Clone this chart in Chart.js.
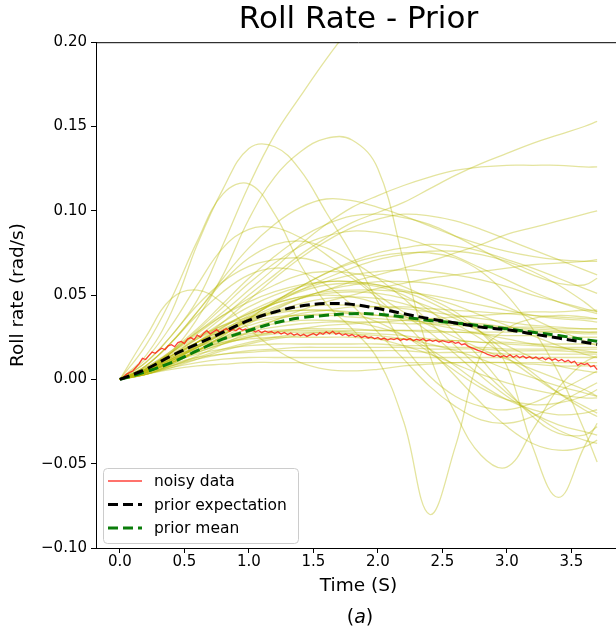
<!DOCTYPE html>
<html>
<head>
<meta charset="utf-8">
<script src="https://cdn.jsdelivr.net/npm/chart.js@4.4.1/dist/chart.umd.min.js"></script>
<style>
    html, body { margin: 0; padding: 0; background: #fff; overflow: hidden; }
    #wrap { position: relative; width: 616px; height: 636px; overflow: hidden; }
    #grafica { position: absolute; left: 0; top: 0; }
    #caption { position: absolute; top: 605px; left: 310px; width: 100px; text-align: center; font: 19px "DejaVu Sans"; color: #000; }
</style>
</head>
<body>
<div id="wrap">
    <canvas id="grafica" width="640" height="636"></canvas>
    <div id="caption">(<i>a</i>)</div>
</div>
<script>
// Textos i eixos
const TITOL = "Roll Rate - Prior";
const X_LABEL = "Time (S)";
const Y_LABEL = "Roll rate (rad/s)";
const X_TICKS = [0, 0.5, 1, 1.5, 2, 2.5, 3, 3.5];
const X_TICK_LABELS = ["0.0", "0.5", "1.0", "1.5", "2.0", "2.5", "3.0", "3.5"];
const Y_TICKS = [-0.1, -0.05, 0, 0.05, 0.1, 0.15, 0.2];
const Y_TICK_LABELS = ["\u22120.10", "\u22120.05", "0.00", "0.05", "0.10", "0.15", "0.20"];
const LEGEND_LABELS = ["noisy data", "prior expectation", "prior mean"];

// Dades sorolloses (mostrejades cada 0.025 s)
const NOISY_STEP = 0.025;
const NOISY_DATA = [
    0, 0.0012, 0.0030, 0.0041, 0.0050, 0.0072, 0.0094, 0.0125,
    0.0118, 0.0141, 0.0162, 0.0155, 0.0171, 0.0185, 0.0176, 0.0199,
    0.0206, 0.0194, 0.0218, 0.0225, 0.0212, 0.0239, 0.0248, 0.0236,
    0.0262, 0.0251, 0.0274, 0.0289, 0.0270, 0.0283, 0.0295, 0.0279,
    0.0291, 0.0302, 0.0285, 0.0296, 0.0288, 0.0304, 0.0292, 0.0299,
    0.0286, 0.0294, 0.0281, 0.0290, 0.0277, 0.0287, 0.0279, 0.0284,
    0.0272, 0.0283, 0.0269, 0.0278, 0.0266, 0.0275, 0.0262, 0.0271,
    0.0259, 0.0268, 0.0255, 0.0264, 0.0273, 0.0261, 0.0277, 0.0268,
    0.0282, 0.0271, 0.0285, 0.0268, 0.0276, 0.0262, 0.0270, 0.0258,
    0.0266, 0.0253, 0.0261, 0.0249, 0.0257, 0.0246, 0.0252, 0.0241,
    0.0249, 0.0237, 0.0245, 0.0233, 0.0242, 0.0236, 0.0244, 0.0231,
    0.0240, 0.0234, 0.0243, 0.0229, 0.0238, 0.0232, 0.0241, 0.0228,
    0.0235, 0.0226, 0.0233, 0.0222, 0.0230, 0.0224, 0.0219, 0.0226,
    0.0214, 0.0220, 0.0206, 0.0211, 0.0196, 0.0189, 0.0181, 0.0172,
    0.0166, 0.0158, 0.0149, 0.0143, 0.0136, 0.0145, 0.0132, 0.0141,
    0.0134, 0.0146, 0.0131, 0.0142, 0.0128, 0.0139, 0.0126, 0.0135,
    0.0124, 0.0133, 0.0121, 0.0130, 0.0117, 0.0127, 0.0114, 0.0122,
    0.0109, 0.0118, 0.0104, 0.0113, 0.0099, 0.0108, 0.0083, 0.0096,
    0.0088, 0.0094, 0.0075, 0.0082, 0.0058
];

// Corbes del prior
const SAMPLE_TIME = [0, 0.2, 0.4, 0.6, 0.8, 1.0, 1.2, 1.4, 1.6, 1.8, 2.0, 2.2, 2.4, 2.6, 2.8, 3.0, 3.2, 3.4, 3.6, 3.7];
const PRIOR_EXPECTATION = [0, 0.006, 0.014, 0.021, 0.028, 0.035, 0.040, 0.0435, 0.045, 0.0445, 0.042, 0.039, 0.036, 0.0335, 0.031, 0.0295, 0.027, 0.0245, 0.022, 0.0208];
const PRIOR_MEAN = [0, 0.0045, 0.010, 0.017, 0.024, 0.029, 0.0335, 0.0365, 0.038, 0.039, 0.0387, 0.037, 0.035, 0.0335, 0.0318, 0.030, 0.028, 0.026, 0.0237, 0.0226];
const PRIOR_SAMPLES = [
    [0, 0.010, 0.026, 0.047, 0.080, 0.115, 0.145, 0.168, 0.190, 0.210, 0.228, 0.245, 0.260, 0.272, 0.282, 0.290, 0.296, 0.300, 0.303, 0.305],
    [0, 0.014, 0.040, 0.080, 0.113, 0.137, 0.138, 0.124, 0.099, 0.074, 0.046, 0.020, 0.002, -0.010, -0.016, -0.018, -0.014, -0.007, 0.001, 0.005],
    [0, 0.020, 0.048, 0.082, 0.110, 0.116, 0.098, 0.068, 0.045, 0.030, 0.012, -0.025, -0.080, -0.040, 0.015, 0.030, 0.036, 0.038, 0.037, 0.036],
    [0, 0.004, 0.016, 0.036, 0.062, 0.095, 0.120, 0.135, 0.143, 0.142, 0.125, 0.070, 0.015, -0.020, -0.045, -0.052, -0.030, -0.005, 0.010, 0.014],
    [0, 0.006, 0.016, 0.027, 0.038, 0.048, 0.056, 0.062, 0.064, 0.063, 0.060, 0.055, 0.048, 0.040, 0.028, 0.008, -0.040, -0.070, -0.040, -0.026],
    [0, 0.005, 0.014, 0.025, 0.037, 0.050, 0.062, 0.074, 0.084, 0.093, 0.099, 0.105, 0.113, 0.121, 0.128, 0.134, 0.140, 0.145, 0.150, 0.153],
    [0, 0.006, 0.016, 0.028, 0.040, 0.053, 0.066, 0.080, 0.092, 0.102, 0.109, 0.115, 0.120, 0.124, 0.126, 0.127, 0.127, 0.127, 0.126, 0.126],
    [0, 0.004, 0.010, 0.017, 0.025, 0.033, 0.041, 0.048, 0.053, 0.058, 0.062, 0.066, 0.070, 0.075, 0.080, 0.086, 0.090, 0.094, 0.098, 0.100],
    [0, 0.025, 0.048, 0.053, 0.045, 0.030, 0.018, 0.010, 0.006, 0.005, 0.006, 0.008, 0.009, 0.010, 0.010, 0.010, 0.009, 0.008, 0.008, 0.008],
    [0, 0.008, 0.022, 0.040, 0.060, 0.078, 0.092, 0.102, 0.107, 0.106, 0.102, 0.097, 0.091, 0.085, 0.080, 0.076, 0.073, 0.071, 0.070, 0.070],
    [0, 0.006, 0.017, 0.030, 0.045, 0.060, 0.073, 0.084, 0.092, 0.097, 0.098, 0.096, 0.092, 0.085, 0.077, 0.069, 0.062, 0.057, 0.056, 0.060],
    [0, 0.012, 0.032, 0.056, 0.078, 0.089, 0.090, 0.084, 0.074, 0.062, 0.050, 0.040, 0.032, 0.025, 0.018, 0.012, 0.006, 0.000, -0.006, -0.010],
    [0, 0.008, 0.022, 0.040, 0.058, 0.072, 0.080, 0.082, 0.078, 0.070, 0.060, 0.048, 0.034, 0.020, 0.006, -0.008, -0.020, -0.030, -0.036, -0.038],
    [0, 0.004, 0.012, 0.022, 0.034, 0.047, 0.060, 0.072, 0.082, 0.090, 0.095, 0.098, 0.097, 0.094, 0.089, 0.083, 0.077, 0.071, 0.065, 0.062],
    [0, 0.006, 0.016, 0.029, 0.043, 0.057, 0.069, 0.079, 0.085, 0.088, 0.087, 0.084, 0.079, 0.073, 0.066, 0.059, 0.052, 0.046, 0.041, 0.039],
    [0, 0.003, 0.009, 0.017, 0.026, 0.036, 0.046, 0.055, 0.063, 0.070, 0.075, 0.078, 0.080, 0.079, 0.076, 0.071, 0.066, 0.060, 0.054, 0.051],
    [0, 0.003, 0.008, 0.014, 0.021, 0.028, 0.035, 0.041, 0.046, 0.050, 0.054, 0.057, 0.060, 0.062, 0.064, 0.066, 0.068, 0.069, 0.070, 0.071],
    [0, 0.010, 0.026, 0.044, 0.058, 0.067, 0.071, 0.072, 0.068, 0.060, 0.048, 0.034, 0.018, 0.002, -0.014, -0.028, -0.038, -0.042, -0.040, -0.036],
    [0, 0.008, 0.022, 0.038, 0.052, 0.062, 0.066, 0.064, 0.056, 0.044, 0.028, 0.012, -0.004, -0.016, -0.024, -0.026, -0.022, -0.014, -0.006, -0.002],
    [0, 0.004, 0.011, 0.019, 0.027, 0.035, 0.042, 0.048, 0.053, 0.056, 0.058, 0.058, 0.057, 0.054, 0.049, 0.043, 0.036, 0.029, 0.023, 0.020],
    [0, 0.005, 0.014, 0.024, 0.034, 0.043, 0.050, 0.055, 0.058, 0.058, 0.056, 0.052, 0.046, 0.038, 0.028, 0.016, 0.004, -0.008, -0.018, -0.022],
    [0, 0.003, 0.009, 0.017, 0.026, 0.036, 0.046, 0.055, 0.063, 0.069, 0.073, 0.075, 0.075, 0.072, 0.064, 0.050, 0.030, 0.004, -0.030, -0.049],
    [0, 0.005, 0.013, 0.022, 0.031, 0.039, 0.045, 0.049, 0.050, 0.049, 0.045, 0.038, 0.028, 0.015, 0.002, -0.010, -0.020, -0.027, -0.031, -0.033],
    [0, 0.004, 0.011, 0.020, 0.029, 0.038, 0.046, 0.052, 0.056, 0.057, 0.055, 0.050, 0.041, 0.028, 0.012, -0.006, -0.022, -0.032, -0.033, -0.028],
    [0, 0.003, 0.006, 0.008, 0.009, 0.010, 0.010, 0.010, 0.010, 0.010, 0.010, 0.010, 0.010, 0.010, 0.010, 0.010, 0.010, 0.010, 0.010, 0.010],
    [0, 0.003, 0.007, 0.010, 0.012, 0.013, 0.013, 0.013, 0.013, 0.013, 0.013, 0.013, 0.013, 0.013, 0.013, 0.013, 0.013, 0.013, 0.013, 0.013],
    [0, 0.004, 0.009, 0.013, 0.015, 0.016, 0.017, 0.017, 0.017, 0.017, 0.017, 0.017, 0.016, 0.016, 0.016, 0.015, 0.015, 0.015, 0.015, 0.015],
    [0, 0.005, 0.010, 0.015, 0.018, 0.020, 0.021, 0.021, 0.021, 0.021, 0.021, 0.020, 0.020, 0.019, 0.019, 0.018, 0.018, 0.018, 0.018, 0.018],
    [0, 0.005, 0.012, 0.018, 0.022, 0.024, 0.025, 0.025, 0.025, 0.025, 0.024, 0.024, 0.023, 0.023, 0.022, 0.022, 0.021, 0.021, 0.021, 0.021],
    [0, 0.006, 0.013, 0.019, 0.024, 0.027, 0.029, 0.030, 0.030, 0.030, 0.029, 0.029, 0.028, 0.028, 0.027, 0.026, 0.026, 0.025, 0.025, 0.025],
    [0, 0.004, 0.010, 0.017, 0.023, 0.028, 0.031, 0.033, 0.034, 0.034, 0.034, 0.033, 0.033, 0.032, 0.031, 0.030, 0.029, 0.028, 0.027, 0.027],
    [0, 0.005, 0.012, 0.020, 0.027, 0.032, 0.036, 0.038, 0.039, 0.039, 0.038, 0.037, 0.036, 0.034, 0.033, 0.031, 0.030, 0.029, 0.028, 0.028],
    [0, 0.006, 0.014, 0.022, 0.030, 0.036, 0.040, 0.043, 0.044, 0.044, 0.043, 0.042, 0.040, 0.038, 0.036, 0.034, 0.032, 0.031, 0.030, 0.030],
    [0, 0.003, 0.008, 0.013, 0.018, 0.022, 0.025, 0.027, 0.028, 0.029, 0.029, 0.029, 0.029, 0.028, 0.028, 0.028, 0.028, 0.028, 0.028, 0.028],
    [0, 0.007, 0.016, 0.025, 0.032, 0.037, 0.040, 0.041, 0.041, 0.040, 0.038, 0.036, 0.033, 0.030, 0.027, 0.024, 0.021, 0.019, 0.017, 0.016],
    [0, 0.004, 0.010, 0.016, 0.021, 0.025, 0.028, 0.030, 0.032, 0.033, 0.034, 0.035, 0.036, 0.037, 0.038, 0.039, 0.040, 0.040, 0.041, 0.041],
    [0, 0.006, 0.015, 0.024, 0.032, 0.039, 0.045, 0.049, 0.052, 0.053, 0.053, 0.052, 0.050, 0.047, 0.044, 0.041, 0.038, 0.036, 0.035, 0.034],
    [0, 0.005, 0.013, 0.022, 0.031, 0.040, 0.047, 0.053, 0.058, 0.062, 0.064, 0.065, 0.064, 0.062, 0.059, 0.055, 0.050, 0.046, 0.042, 0.040],
    [0, 0.004, 0.010, 0.016, 0.021, 0.025, 0.027, 0.028, 0.028, 0.027, 0.024, 0.020, 0.015, 0.009, 0.003, -0.002, -0.006, -0.009, -0.011, -0.011],
    [0, 0.005, 0.012, 0.019, 0.025, 0.030, 0.033, 0.035, 0.035, 0.034, 0.031, 0.026, 0.018, 0.008, -0.003, -0.012, -0.018, -0.021, -0.020, -0.018],
    [0, 0.006, 0.014, 0.022, 0.029, 0.035, 0.039, 0.041, 0.041, 0.039, 0.034, 0.026, 0.016, 0.005, -0.005, -0.012, -0.015, -0.014, -0.010, -0.006],
    [0, 0.004, 0.011, 0.019, 0.027, 0.034, 0.040, 0.045, 0.048, 0.049, 0.048, 0.045, 0.040, 0.033, 0.024, 0.013, 0.002, -0.008, -0.016, -0.020],
    [0, 0.004, 0.008, 0.012, 0.015, 0.017, 0.018, 0.019, 0.019, 0.019, 0.019, 0.019, 0.018, 0.018, 0.018, 0.017, 0.017, 0.017, 0.016, 0.016],
    [0, 0.005, 0.011, 0.017, 0.022, 0.026, 0.028, 0.029, 0.029, 0.028, 0.027, 0.026, 0.024, 0.023, 0.022, 0.021, 0.020, 0.019, 0.019, 0.019],
    [0, 0.006, 0.014, 0.022, 0.029, 0.034, 0.037, 0.038, 0.038, 0.037, 0.036, 0.035, 0.034, 0.033, 0.032, 0.031, 0.031, 0.030, 0.030, 0.030],
    [0, 0.004, 0.010, 0.017, 0.024, 0.030, 0.035, 0.039, 0.041, 0.043, 0.043, 0.043, 0.042, 0.041, 0.040, 0.039, 0.038, 0.037, 0.036, 0.036],
    [0, 0.005, 0.012, 0.020, 0.028, 0.036, 0.043, 0.048, 0.051, 0.052, 0.051, 0.048, 0.043, 0.036, 0.028, 0.020, 0.013, 0.008, 0.005, 0.004],
    [0, 0.003, 0.007, 0.012, 0.017, 0.021, 0.024, 0.026, 0.027, 0.027, 0.026, 0.024, 0.021, 0.017, 0.012, 0.006, 0.001, -0.004, -0.008, -0.010],
    [0, 0.007, 0.017, 0.028, 0.038, 0.046, 0.052, 0.056, 0.058, 0.058, 0.056, 0.053, 0.049, 0.044, 0.038, 0.032, 0.026, 0.020, 0.015, 0.013],
    [0, 0.004, 0.011, 0.019, 0.028, 0.037, 0.045, 0.053, 0.060, 0.066, 0.071, 0.074, 0.076, 0.076, 0.074, 0.070, 0.064, 0.056, 0.046, 0.040]
];

const FONT = "DejaVu Sans";

// Passa valors a punts {x, y}
function aPunts(temps, valors) {
    return valors.map((v, i) => ({ x: temps[i], y: v }));
}

const noisyTemps = NOISY_DATA.map((_, i) => Math.round(i * NOISY_STEP * 1000) / 1000);

const datasets = [
    {
        label: "prior expectation",
        data: aPunts(SAMPLE_TIME, PRIOR_EXPECTATION),
        borderColor: "#000000",
        borderWidth: 3,
        borderDash: [10, 5],
        tension: 0.4,
        order: 1
    },
    {
        label: "prior mean",
        data: aPunts(SAMPLE_TIME, PRIOR_MEAN),
        borderColor: "#0a7d0a",
        borderWidth: 3,
        borderDash: [10, 5],
        tension: 0.4,
        order: 2
    },
    {
        label: "noisy data",
        data: aPunts(noisyTemps, NOISY_DATA),
        borderColor: "rgba(255, 20, 10, 0.8)",
        borderWidth: 1.3,
        tension: 0,
        order: 3
    }
];

PRIOR_SAMPLES.forEach((corba, i) => {
    datasets.push({
        label: "sample " + (i + 1),
        data: aPunts(SAMPLE_TIME, corba),
        borderColor: "rgba(185, 185, 0, 0.38)",
        borderWidth: 1.3,
        tension: 0.4,
        order: 4
    });
});

// Marc superior (com matplotlib)
const marc = {
    id: "marc",
    afterDatasetsDraw(chart) {
        const { ctx, chartArea: a } = chart;
        ctx.save();
        ctx.strokeStyle = "#000";
        ctx.lineWidth = 1;
        ctx.beginPath();
        ctx.moveTo(a.left, a.top + 0.5);
        ctx.lineTo(a.right, a.top + 0.5);
        ctx.lineTo(a.right, a.bottom);
        ctx.stroke();
        ctx.restore();
    }
};

// Llegenda dins de l'àrea, a baix a l'esquerra
const llegenda = {
    id: "llegenda",
    afterDatasetsDraw(chart) {
        const { ctx, chartArea: a } = chart;
        const x0 = a.left + 7, y0 = a.bottom - 80, w = 195, h = 75;
        ctx.save();
        ctx.fillStyle = "rgba(255, 255, 255, 0.8)";
        ctx.strokeStyle = "#cccccc";
        ctx.lineWidth = 1;
        ctx.beginPath();
        ctx.roundRect(x0 + 0.5, y0 + 0.5, w, h, 4);
        ctx.fill();
        ctx.stroke();

        ctx.font = "15.5px '" + FONT + "'";
        ctx.textBaseline = "middle";
        LEGEND_LABELS.forEach((nom, i) => {
            const ds = chart.data.datasets.find(d => d.label === nom);
            const y = y0 + 13 + i * 23.5;
            ctx.strokeStyle = ds.borderColor;
            ctx.lineWidth = ds.borderWidth;
            ctx.setLineDash(ds.borderDash || []);
            ctx.beginPath();
            ctx.moveTo(x0 + 5, y);
            ctx.lineTo(x0 + 39, y);
            ctx.stroke();
            ctx.setLineDash([]);
            ctx.fillStyle = "#000";
            ctx.fillText(nom, x0 + 51, y + 1);
        });
        ctx.restore();
    }
};

new Chart(document.getElementById("grafica"), {
    type: "line",
    data: { datasets: datasets },
    options: {
        responsive: false,
        animation: false,
        events: [],
        layout: { padding: { left: 0, right: 19, top: 0, bottom: 39 } },
        elements: { point: { radius: 0 } },
        plugins: {
            legend: { display: false },
            tooltip: { enabled: false },
            title: {
                display: true,
                text: TITOL,
                color: "#000",
                fullSize: false,
                font: { family: FONT, size: 31, weight: "normal" },
                padding: { top: 1, bottom: 4 }
            }
        },
        scales: {
            x: {
                type: "linear",
                min: -0.185,
                max: 3.885,
                afterBuildTicks: s => { s.ticks = X_TICKS.map(v => ({ value: v })); },
                afterFit: s => { s.height = 49; },
                ticks: {
                    callback: v => X_TICK_LABELS[X_TICKS.indexOf(v)],
                    color: "#000",
                    font: { family: FONT, size: 15 },
                    padding: 0,
                    maxRotation: 0,
                    autoSkip: false
                },
                grid: { drawOnChartArea: false, drawTicks: true, tickLength: 5, color: "#000" },
                border: { display: true, color: "#000", width: 1 },
                title: { display: true, text: X_LABEL, color: "#000", font: { family: FONT, size: 18.5 }, padding: 0 }
            },
            y: {
                type: "linear",
                min: -0.1,
                max: 0.2,
                afterBuildTicks: s => { s.ticks = Y_TICKS.map(v => ({ value: v })); },
                afterFit: s => { s.width = 96; },
                ticks: {
                    callback: v => Y_TICK_LABELS[Y_TICKS.indexOf(v)],
                    color: "#000",
                    font: { family: FONT, size: 15 },
                    padding: 4,
                    autoSkip: false
                },
                grid: { drawOnChartArea: false, drawTicks: true, tickLength: 5, color: "#000" },
                border: { display: true, color: "#000", width: 1 },
                title: { display: true, text: Y_LABEL, color: "#000", font: { family: FONT, size: 18.5 }, padding: { top: 7, bottom: 0 } }
            }
        }
    },
    plugins: [marc, llegenda]
});
</script>
</body>
</html>
